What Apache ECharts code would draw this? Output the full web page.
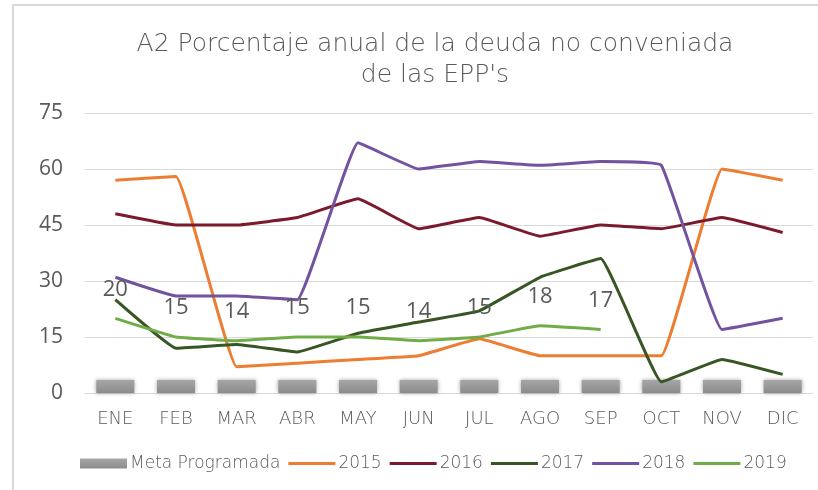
<!DOCTYPE html>
<html>
<head>
<meta charset="utf-8">
<script src="https://cdn.jsdelivr.net/npm/echarts@6/dist/echarts.min.js"></script>
<style>
  html, body { margin: 0; padding: 0; background: #fff; }
  #chart { width: 818px; height: 490px; }
</style>
</head>
<body>
<div id="chart"></div>
<script>
const months = ['ENE', 'FEB', 'MAR', 'ABR', 'MAY', 'JUN', 'JUL', 'AGO', 'SEP', 'OCT', 'NOV', 'DIC']
const meta = [3.5, 3.5, 3.5, 3.5, 3.5, 3.5, 3.5, 3.5, 3.5, 3.5, 3.5, 3.5]
const y2015 = [57, 58, 7, 8, 9, 10, 14.5, 10, 10, 10, 60, 57]
const y2016 = [48, 45, 45, 47, 52, 44, 47, 42, 45, 44, 47, 43]
const y2017 = [25, 12, 13, 11, 16, 19, 22, 31, 36, 3, 9, 5]
const y2018 = [31, 26, 26, 25, 67, 60, 62, 61, 62, 61, 17, 20]
const y2019 = [20, 15, 14, 15, 15, 14, 15, 18, 17]
const yTicks = { min: 0, max: 75, step: 15 }

const textColor = '#595959'
const wideFont = 'DejaVu Sans'
// thin bar in a 47x10 box, used as the legend mark of the lines
const lineIcon = 'path://M0,0L0.01,0L0.01,0.01Z M0,3.5L47,3.5L47,6.5L0,6.5Z M0,10L0.01,10L0.01,9.99Z'

function lineSeries(name, data, color) {
  return {
    name,
    type: 'line',
    data,
    smooth: 0.08,
    symbol: 'circle',
    symbolSize: 0,
    lineStyle: { color, width: 3 },
    itemStyle: { color }
  }
}

const chart = echarts.init(document.getElementById('chart'))
chart.setOption({
  animation: false,
  textStyle: { fontFamily: wideFont },
  graphic: [{
    type: 'rect',
    shape: { x: 13, y: 5, width: 820, height: 500 },
    style: { fill: 'none', stroke: '#d9d9d9', lineWidth: 2 },
    silent: true
  }],
  title: {
    text: 'A2 Porcentaje anual de la deuda no conveniada\nde las EPP\'s',
    left: 430,
    textAlign: 'center',
    top: 24,
    textStyle: { color: textColor, fontSize: 25, fontWeight: 200, lineHeight: 31, fontFamily: wideFont }
  },
  legend: {
    bottom: 13,
    left: 75,
    itemWidth: 47,
    itemHeight: 10,
    itemGap: 8,
    textStyle: { color: textColor, fontSize: 17, fontWeight: 200, fontFamily: wideFont, padding: [0, 0, 0, -2] },
    data: [
      { name: 'Meta Programada', icon: 'rect' },
      { name: '2015', icon: lineIcon },
      { name: '2016', icon: lineIcon },
      { name: '2017', icon: lineIcon },
      { name: '2018', icon: lineIcon },
      { name: '2019', icon: lineIcon }
    ]
  },
  grid: { left: 85, right: 5, top: 113, bottom: 97 },
  xAxis: {
    type: 'category',
    data: months,
    axisTick: { show: false },
    axisLine: { lineStyle: { color: '#d9d9d9' } },
    axisLabel: { color: textColor, fontSize: 18, fontWeight: 200, margin: 17, fontFamily: wideFont }
  },
  yAxis: {
    type: 'value',
    min: yTicks.min,
    max: yTicks.max,
    interval: yTicks.step,
    axisLine: { show: false },
    axisTick: { show: false },
    axisLabel: { color: textColor, fontSize: 21, margin: 22, fontFamily: 'Open Sans' },
    splitLine: { lineStyle: { color: '#d9d9d9', width: 1 } }
  },
  series: [
    {
      name: 'Meta Programada',
      type: 'bar',
      data: meta,
      barWidth: 38,
      itemStyle: {
        color: new echarts.graphic.LinearGradient(0, 0, 0, 1, [
          { offset: 0, color: '#a6a6a6' },
          { offset: 1, color: '#8c8c8c' }
        ]),
        shadowBlur: 4,
        shadowColor: 'rgba(0,0,0,0.35)'
      }
    },
    lineSeries('2015', y2015, '#ed7d31'),
    lineSeries('2016', y2016, '#7b1a2c'),
    lineSeries('2017', y2017, '#375623'),
    lineSeries('2018', y2018, '#7153a0'),
    Object.assign(lineSeries('2019', y2019, '#70ad47'), {
      label: {
        show: true,
        position: 'top',
        distance: 18,
        color: textColor,
        fontSize: 22,
        fontFamily: 'Open Sans'
      },
      labelLayout: { hideOverlap: false }
    })
  ]
})
</script>
</body>
</html>
